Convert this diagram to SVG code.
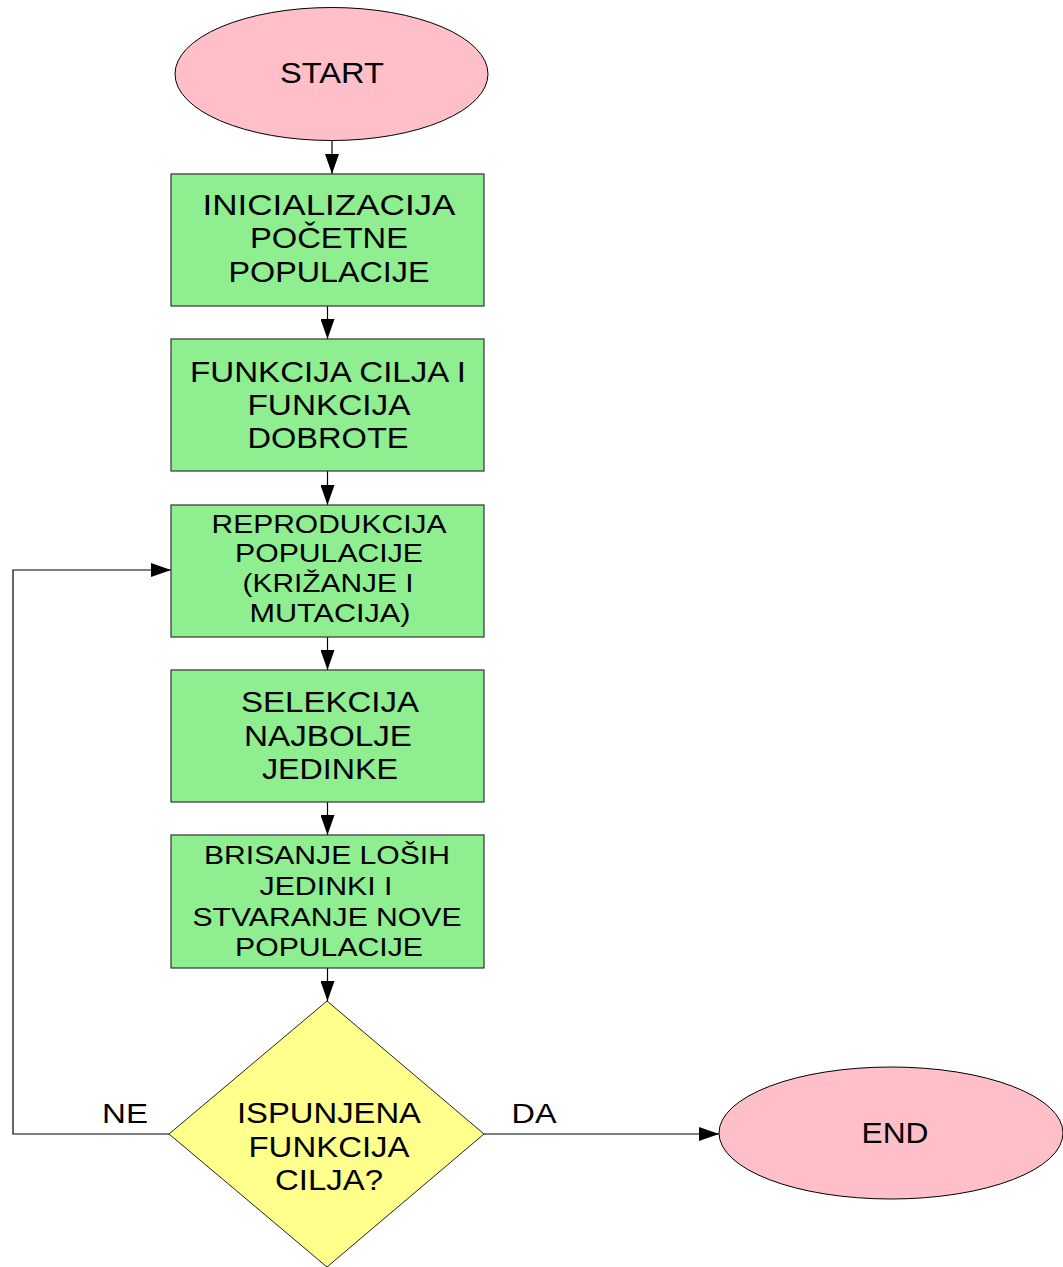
<svg xmlns="http://www.w3.org/2000/svg" width="1063" height="1267" viewBox="0 0 1063 1267">
<style>
.term{fill:#FFBFC9;stroke:#000;stroke-width:1}
.proc{fill:#8FEE90;stroke:#333;stroke-width:1.2}
.dec{fill:#FFFF8C;stroke:#222;stroke-width:1}
.conn{fill:none;stroke:#000;stroke-width:1.2}
text{font-family:"Liberation Sans",Arial,sans-serif;fill:#000;text-anchor:middle}
.t27{font-size:29px}
.t24{font-size:25px}
.t26{font-size:27px}
</style>
<defs>
<marker id="arr" markerUnits="userSpaceOnUse" markerWidth="20" markerHeight="14" refX="20" refY="7" orient="auto">
<path d="M0,0 L20,7 L0,14 z" fill="#000"/>
</marker>
</defs>
<rect width="1063" height="1267" fill="#fff"/>
<g id="connectors">
<line class="conn" x1="332" y1="141" x2="332" y2="174" marker-end="url(#arr)"/>
<line class="conn" x1="327.5" y1="306" x2="327.5" y2="339" marker-end="url(#arr)"/>
<line class="conn" x1="327.5" y1="471" x2="327.5" y2="505" marker-end="url(#arr)"/>
<line class="conn" x1="327.5" y1="637" x2="327.5" y2="670" marker-end="url(#arr)"/>
<line class="conn" x1="327.5" y1="802" x2="327.5" y2="835" marker-end="url(#arr)"/>
<line class="conn" x1="327.5" y1="968" x2="327.5" y2="1001" marker-end="url(#arr)"/>
<line class="conn" x1="484" y1="1134" x2="719" y2="1134" marker-end="url(#arr)"/>
<polyline class="conn" points="169,1134 13,1134 13,570 171,570" marker-end="url(#arr)"/>
<text class="t26" x="125" y="1123" textLength="46" lengthAdjust="spacingAndGlyphs">NE</text>
<text class="t26" x="534" y="1123" textLength="45" lengthAdjust="spacingAndGlyphs">DA</text>
</g>
<g id="start">
<ellipse class="term" cx="331.5" cy="74" rx="156.5" ry="66.5"/>
<text class="t27" x="332" y="83" textLength="104" lengthAdjust="spacingAndGlyphs">START</text>
</g>
<g id="init">
<rect class="proc" x="171" y="174" width="313" height="132"/>
<text class="t27" x="329" y="215" textLength="253" lengthAdjust="spacingAndGlyphs">INICIALIZACIJA</text>
<text class="t27" x="329" y="248" textLength="158" lengthAdjust="spacingAndGlyphs">POČETNE</text>
<text class="t27" x="329" y="282" textLength="201" lengthAdjust="spacingAndGlyphs">POPULACIJE</text>
</g>
<g id="fitness">
<rect class="proc" x="171" y="339" width="313" height="132"/>
<text class="t27" x="328" y="382" textLength="276" lengthAdjust="spacingAndGlyphs">FUNKCIJA CILJA I</text>
<text class="t27" x="329" y="415" textLength="163" lengthAdjust="spacingAndGlyphs">FUNKCIJA</text>
<text class="t27" x="328" y="448" textLength="161" lengthAdjust="spacingAndGlyphs">DOBROTE</text>
</g>
<g id="repro">
<rect class="proc" x="171" y="505" width="313" height="132"/>
<text class="t24" x="329" y="533" textLength="235" lengthAdjust="spacingAndGlyphs">REPRODUKCIJA</text>
<text class="t24" x="329" y="562" textLength="188" lengthAdjust="spacingAndGlyphs">POPULACIJE</text>
<text class="t24" x="328" y="592" textLength="171" lengthAdjust="spacingAndGlyphs">(KRIŽANJE I</text>
<text class="t24" x="330" y="622" textLength="161" lengthAdjust="spacingAndGlyphs">MUTACIJA)</text>
</g>
<g id="select">
<rect class="proc" x="171" y="670" width="313" height="132"/>
<text class="t27" x="330" y="712" textLength="178" lengthAdjust="spacingAndGlyphs">SELEKCIJA</text>
<text class="t27" x="328" y="746" textLength="168" lengthAdjust="spacingAndGlyphs">NAJBOLJE</text>
<text class="t27" x="330" y="779" textLength="136" lengthAdjust="spacingAndGlyphs">JEDINKE</text>
</g>
<g id="delete">
<rect class="proc" x="171" y="835" width="313" height="133"/>
<text class="t24" x="327" y="864" textLength="246" lengthAdjust="spacingAndGlyphs">BRISANJE LOŠIH</text>
<text class="t24" x="326" y="895" textLength="133" lengthAdjust="spacingAndGlyphs">JEDINKI I</text>
<text class="t24" x="327" y="926" textLength="269" lengthAdjust="spacingAndGlyphs">STVARANJE NOVE</text>
<text class="t24" x="329" y="956" textLength="188" lengthAdjust="spacingAndGlyphs">POPULACIJE</text>
</g>
<g id="decision">
<polygon class="dec" points="327,1001 484,1134 327,1267 169,1134"/>
<text class="t27" x="329" y="1123" textLength="184" lengthAdjust="spacingAndGlyphs">ISPUNJENA</text>
<text class="t27" x="329" y="1157" textLength="161" lengthAdjust="spacingAndGlyphs">FUNKCIJA</text>
<text class="t27" x="329" y="1190" textLength="108" lengthAdjust="spacingAndGlyphs">CILJA?</text>
</g>
<g id="end">
<ellipse class="term" cx="891" cy="1133" rx="172" ry="66"/>
<text class="t27" x="895" y="1143" textLength="67" lengthAdjust="spacingAndGlyphs">END</text>
</g>
</svg>
